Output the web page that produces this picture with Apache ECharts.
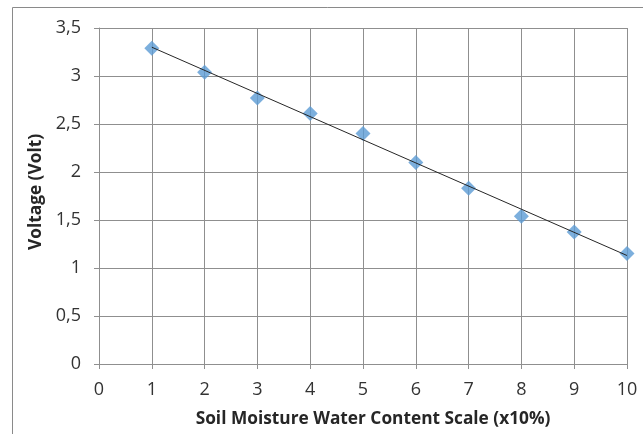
<!DOCTYPE html>
<html>
<head>
<meta charset="utf-8">
<script src="https://cdn.jsdelivr.net/npm/echarts@6/dist/echarts.min.js"></script>
<style>
html,body{margin:0;padding:0;background:#fff;}
#chart{width:643px;height:434px;}
</style>
</head>
<body>
<div id="chart"></div>
<script>
// Data
const xValues = [1, 2, 3, 4, 5, 6, 7, 8, 9, 10];
const voltage = [3.29, 3.04, 2.77, 2.61, 2.40, 2.10, 1.83, 1.54, 1.375, 1.15];
const trendX = [1, 10];
const trendY = [3.30, 1.13];
const xTickLabels = ['0','1','2','3','4','5','6','7','8','9','10'];
const yTickLabels = ['0','0,5','1','1,5','2','2,5','3','3,5'];
const xTitle = 'Soil Moisture Water Content Scale (x10%)';
const yTitle = 'Voltage (Volt)';

const font = '"Open Sans", sans-serif';
const gridColor = '#8f8f8f';

const chart = echarts.init(document.getElementById('chart'), null, {renderer: 'canvas'});
chart.setOption({
  animation: false,
  backgroundColor: '#fff',
  graphic: [
    {type: 'line', shape: {x1: 12.5, y1: 7.5, x2: 12.5, y2: 434}, style: {stroke: '#8a8a8a', lineWidth: 1}},
    {type: 'line', shape: {x1: 12.5, y1: 7.5, x2: 643, y2: 7.5}, style: {stroke: '#8a8a8a', lineWidth: 1}}
  ],
  grid: {left: 99, right: 16, top: 28, bottom: 70},
  xAxis: {
    type: 'value', min: 0, max: 10, interval: 1,
    name: xTitle, nameLocation: 'middle', nameGap: 47,
    nameTextStyle: {fontFamily: font, fontSize: 17.3, fontWeight: 'bold', color: '#262626', padding: [0, 0, 0, 20]},
    axisLine: {show: true, lineStyle: {color: gridColor, width: 1}},
    axisTick: {show: true, length: 5, lineStyle: {color: gridColor}},
    splitLine: {show: true, lineStyle: {color: gridColor, width: 1}},
    axisLabel: {fontFamily: font, fontSize: 18, color: '#333', margin: 17,
      formatter: v => xTickLabels[Math.round(v)]}
  },
  yAxis: {
    type: 'value', min: 0, max: 3.5, interval: 0.5,
    name: yTitle, nameLocation: 'middle', nameGap: 51, nameRotate: 90,
    nameTextStyle: {fontFamily: font, fontSize: 17.3, fontWeight: 'bold', color: '#262626', padding: [0, 0, 0, 8]},
    axisLine: {show: true, lineStyle: {color: gridColor, width: 1}},
    axisTick: {show: true, length: 5, lineStyle: {color: gridColor}},
    splitLine: {show: true, lineStyle: {color: gridColor, width: 1}},
    axisLabel: {fontFamily: font, fontSize: 18, color: '#333', margin: 18,
      formatter: v => yTickLabels[Math.round(v * 2)]}
  },
  series: [
    {
      type: 'line',
      data: trendX.map((x, i) => [x, trendY[i]]),
      symbol: 'none',
      lineStyle: {color: '#262626', width: 1},
      z: 3
    },
    {
      type: 'scatter',
      data: xValues.map((x, i) => [x, voltage[i]]),
      symbol: 'diamond',
      symbolSize: 15,
      itemStyle: {color: '#5b9bd5'},
      z: 2
    }
  ]
});
</script>
</body>
</html>
